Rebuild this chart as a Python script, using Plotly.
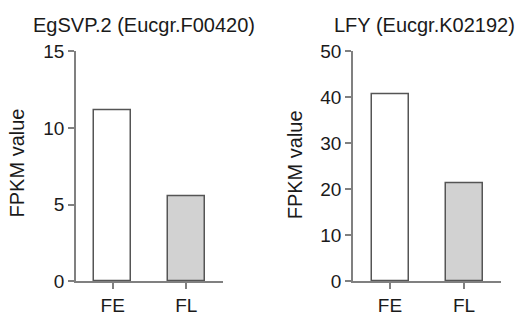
import plotly.graph_objects as go

categories = ["FE", "FL"]
svp_values = [11.15, 5.57]
lfy_values = [40.7, 21.3]
svp_title = "EgSVP.2 (Eucgr.F00420)"
lfy_title = "LFY (Eucgr.K02192)"
y_label = "FPKM value"
svp_ticks = [0, 5, 10, 15]
lfy_ticks = [0, 10, 20, 30, 40, 50]

W, H = 522, 326
fill_colors = ["#ffffff", "#d2d2d2"]
edge = "#555555"
axis_col = "#808080"
text_col = "#1a1a1a"
font_family = "Liberation Sans"

fig = go.Figure()
fig.add_trace(go.Bar(x=categories, y=svp_values, width=0.5,
                     marker=dict(color=fill_colors, line=dict(color=edge, width=1.5)),
                     xaxis="x", yaxis="y", showlegend=False))
fig.add_trace(go.Bar(x=categories, y=lfy_values, width=0.5,
                     marker=dict(color=fill_colors, line=dict(color=edge, width=1.5)),
                     xaxis="x2", yaxis="y2", showlegend=False))

ydom = [36 / H, 282 / H]
tick_font = dict(size=19, color=text_col, family=font_family)
common_x = dict(showline=True, linecolor=axis_col, linewidth=1.5, ticks="outside",
                ticklen=6, tickwidth=1.5, tickcolor=axis_col, showgrid=False,
                zeroline=False, range=[-0.5, 1.5], tickfont=tick_font)
common_y = dict(showline=True, linecolor=axis_col, linewidth=1.5, ticks="outside",
                ticklen=6, tickwidth=1.5, tickcolor=axis_col, showgrid=False,
                zeroline=False, domain=ydom, tickfont=tick_font)

fig.update_layout(
    width=W, height=H,
    margin=dict(l=0, r=0, t=0, b=0),
    plot_bgcolor="white", paper_bgcolor="white",
    bargap=0,
    xaxis=dict(domain=[76 / W, 223 / W], anchor="y", **common_x),
    yaxis=dict(anchor="x", range=[0, 15], tickvals=svp_ticks, **common_y),
    xaxis2=dict(domain=[353 / W, 501 / W], anchor="y2", **common_x),
    yaxis2=dict(anchor="x2", range=[0, 50], tickvals=lfy_ticks, **common_y),
    font=dict(family=font_family, color=text_col),
)

title_font = dict(size=20, color=text_col, family=font_family)
label_font = dict(size=20, color=text_col, family=font_family)
fig.add_annotation(text=svp_title, x=31 / W, y=1 - 16 / H, xref="paper", yref="paper",
                   xanchor="left", yanchor="middle", showarrow=False, font=title_font)
fig.add_annotation(text=lfy_title, x=332 / W, y=1 - 16 / H, xref="paper", yref="paper",
                   xanchor="left", yanchor="middle", showarrow=False, font=title_font)
fig.add_annotation(text=y_label, x=17 / W, y=1 - 164 / H, xref="paper", yref="paper",
                   xanchor="center", yanchor="middle", textangle=-90, showarrow=False, font=label_font)
fig.add_annotation(text=y_label, x=295 / W, y=1 - 166 / H, xref="paper", yref="paper",
                   xanchor="center", yanchor="middle", textangle=-90, showarrow=False, font=label_font)

fig.write_html("out.html", config={"displayModeBar": False},
               post_script="document.body.style.margin='0';document.body.style.overflow='hidden';")
